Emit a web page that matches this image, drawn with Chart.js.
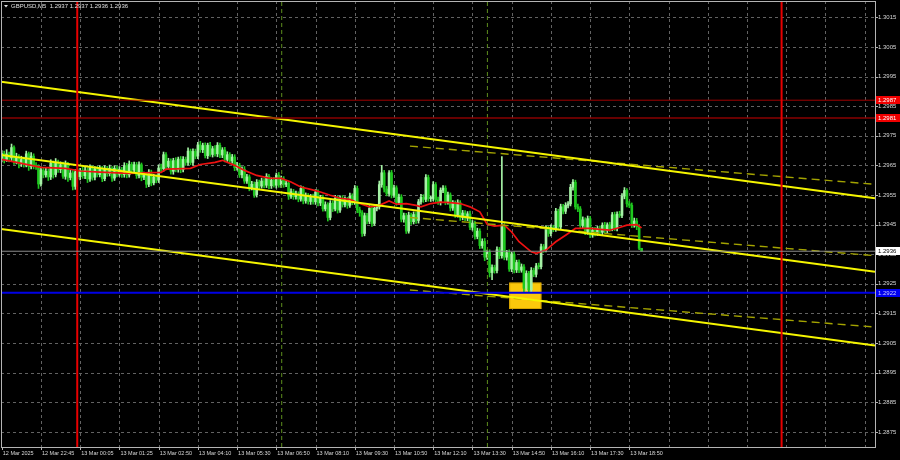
<!DOCTYPE html>
<html><head><meta charset="utf-8">
<script src="https://cdn.jsdelivr.net/npm/chart.js@4.4.1/dist/chart.umd.min.js"></script>
<style>html,body{margin:0;padding:0;background:#000;overflow:hidden}#wrap{width:900px;height:460px}</style>
</head><body><div id="wrap"><canvas id="c" width="900" height="460"></canvas></div>
<script>
const symbolTitle = "GBPUSD,M5  1.2937 1.2937 1.2936 1.2936";
const timeLabels = ["12 Mar 2025","12 Mar 22:45","13 Mar 00:05","13 Mar 01:25","13 Mar 02:50","13 Mar 04:10","13 Mar 05:30","13 Mar 06:50","13 Mar 08:10","13 Mar 09:30","13 Mar 10:50","13 Mar 12:10","13 Mar 13:30","13 Mar 14:50","13 Mar 16:10","13 Mar 17:30","13 Mar 18:50"];
const timeTickBars = [0,16,32,48,64,80,96,112,128,144,160,176,192,208,224,240,256,272,288,304,320,336,352];
const priceTicks = [1.2875,1.2885,1.2895,1.2905,1.2915,1.2925,1.2935,1.2945,1.2955,1.2965,1.2975,1.2985,1.2995,1.3005,1.3015];

const opens = [
1.29670,1.29690,1.29670,1.29688,1.29675,1.29710,1.29663,1.29677,1.29655,1.29670,
1.29655,1.29689,1.29646,1.29681,1.29649,1.29645,1.29587,1.29634,1.29618,1.29630,
1.29611,1.29658,1.29619,1.29660,1.29636,1.29652,1.29613,1.29653,1.29609,1.29624,
1.29579,1.29628,1.29612,1.29633,1.29615,1.29634,1.29604,1.29642,1.29610,1.29637,
1.29619,1.29640,1.29605,1.29639,1.29622,1.29640,1.29607,1.29640,1.29620,1.29636,
1.29619,1.29649,1.29618,1.29653,1.29634,1.29652,1.29616,1.29652,1.29610,1.29618,
1.29586,1.29627,1.29591,1.29610,1.29600,1.29641,1.29639,1.29686,1.29646,1.29664,
1.29630,1.29666,1.29636,1.29671,1.29636,1.29670,1.29660,1.29698,1.29660,1.29697,
1.29681,1.29719,1.29703,1.29717,1.29683,1.29718,1.29687,1.29706,1.29689,1.29718,
1.29685,1.29702,1.29670,1.29686,1.29665,1.29678,1.29642,1.29650,1.29618,1.29637,
1.29597,1.29611,1.29574,1.29586,1.29551,1.29593,1.29580,1.29597,1.29583,1.29613,
1.29581,1.29600,1.29583,1.29617,1.29584,1.29604,1.29586,1.29590,1.29546,1.29561,
1.29544,1.29553,1.29536,1.29572,1.29530,1.29547,1.29528,1.29543,1.29527,1.29560,
1.29523,1.29541,1.29503,1.29517,1.29474,1.29522,1.29503,1.29539,1.29499,1.29539,
1.29518,1.29535,1.29515,1.29546,1.29526,1.29572,1.29500,1.29490,1.29420,1.29480,
1.29461,1.29505,1.29454,1.29505,1.29510,1.29585,1.29625,1.29570,1.29555,1.29625,
1.29550,1.29574,1.29525,1.29543,1.29468,1.29480,1.29428,1.29482,1.29460,1.29484,
1.29464,1.29527,1.29542,1.29535,1.29609,1.29538,1.29538,1.29585,1.29534,1.29526,
1.29566,1.29573,1.29526,1.29550,1.29506,1.29522,1.29483,1.29524,1.29474,1.29489,
1.29472,1.29486,1.29441,1.29455,1.29410,1.29428,1.29379,1.29393,1.29340,1.29356,
1.29288,1.29305,1.29295,1.29365,1.29345,1.29445,1.29340,1.29355,1.29300,1.29350,
1.29297,1.29322,1.29296,1.29307,1.29235,1.29285,1.29230,1.29295,1.29282,1.29310,
1.29308,1.29375,1.29365,1.29437,1.29420,1.29440,1.29435,1.29495,1.29442,1.29510,
1.29495,1.29515,1.29520,1.29576,1.29593,1.29510,1.29503,1.29447,1.29466,1.29425,
1.29470,1.29415,1.29431,1.29422,1.29437,1.29424,1.29448,1.29430,1.29449,1.29437,
1.29483,1.29438,1.29485,1.29481,1.29546,1.29565,1.29520,1.29515,1.29449,1.29462,
1.29443,1.29370];
const closes = [
1.29690,1.29670,1.29688,1.29675,1.29710,1.29663,1.29677,1.29655,1.29670,1.29655,
1.29689,1.29646,1.29681,1.29649,1.29645,1.29587,1.29634,1.29618,1.29630,1.29611,
1.29658,1.29619,1.29660,1.29636,1.29652,1.29613,1.29653,1.29609,1.29624,1.29579,
1.29628,1.29612,1.29633,1.29615,1.29634,1.29604,1.29642,1.29610,1.29637,1.29619,
1.29640,1.29605,1.29639,1.29622,1.29640,1.29607,1.29640,1.29620,1.29636,1.29619,
1.29649,1.29618,1.29653,1.29634,1.29652,1.29616,1.29652,1.29610,1.29618,1.29586,
1.29627,1.29591,1.29610,1.29600,1.29641,1.29639,1.29686,1.29646,1.29664,1.29630,
1.29666,1.29636,1.29671,1.29636,1.29670,1.29660,1.29698,1.29660,1.29697,1.29681,
1.29719,1.29703,1.29717,1.29683,1.29718,1.29687,1.29706,1.29689,1.29718,1.29685,
1.29702,1.29670,1.29686,1.29665,1.29678,1.29642,1.29650,1.29618,1.29637,1.29597,
1.29611,1.29574,1.29586,1.29551,1.29593,1.29580,1.29597,1.29583,1.29613,1.29581,
1.29600,1.29583,1.29617,1.29584,1.29604,1.29586,1.29590,1.29546,1.29561,1.29544,
1.29553,1.29536,1.29572,1.29530,1.29547,1.29528,1.29543,1.29527,1.29560,1.29523,
1.29541,1.29503,1.29517,1.29474,1.29522,1.29503,1.29539,1.29499,1.29539,1.29518,
1.29535,1.29515,1.29546,1.29526,1.29572,1.29500,1.29490,1.29420,1.29480,1.29461,
1.29505,1.29454,1.29505,1.29510,1.29585,1.29625,1.29570,1.29555,1.29625,1.29550,
1.29574,1.29525,1.29543,1.29468,1.29480,1.29428,1.29482,1.29460,1.29484,1.29464,
1.29527,1.29542,1.29535,1.29609,1.29538,1.29538,1.29585,1.29534,1.29526,1.29566,
1.29573,1.29526,1.29550,1.29506,1.29522,1.29483,1.29524,1.29474,1.29489,1.29472,
1.29486,1.29441,1.29455,1.29410,1.29428,1.29379,1.29393,1.29340,1.29356,1.29288,
1.29305,1.29295,1.29365,1.29345,1.29445,1.29340,1.29355,1.29300,1.29350,1.29297,
1.29322,1.29296,1.29307,1.29235,1.29285,1.29230,1.29295,1.29282,1.29310,1.29308,
1.29375,1.29365,1.29437,1.29420,1.29440,1.29435,1.29495,1.29442,1.29510,1.29495,
1.29515,1.29520,1.29576,1.29593,1.29510,1.29503,1.29447,1.29466,1.29425,1.29470,
1.29415,1.29431,1.29422,1.29437,1.29424,1.29448,1.29430,1.29449,1.29437,1.29483,
1.29438,1.29485,1.29481,1.29546,1.29565,1.29520,1.29515,1.29449,1.29462,1.29443,
1.29370,1.29360];
const highs = [
1.29700,1.29698,1.29703,1.29695,1.29722,1.29716,1.29691,1.29686,1.29681,1.29678,
1.29698,1.29695,1.29693,1.29689,1.29659,1.29652,1.29645,1.29643,1.29643,1.29638,
1.29669,1.29665,1.29673,1.29668,1.29662,1.29661,1.29665,1.29660,1.29634,1.29632,
1.29636,1.29638,1.29640,1.29644,1.29643,1.29642,1.29652,1.29649,1.29646,1.29647,
1.29649,1.29647,1.29649,1.29647,1.29651,1.29646,1.29649,1.29648,1.29646,1.29643,
1.29659,1.29657,1.29665,1.29660,1.29661,1.29660,1.29662,1.29658,1.29627,1.29625,
1.29636,1.29634,1.29620,1.29618,1.29652,1.29654,1.29695,1.29693,1.29674,1.29672,
1.29674,1.29676,1.29678,1.29680,1.29680,1.29678,1.29709,1.29705,1.29706,1.29705,
1.29728,1.29731,1.29725,1.29726,1.29725,1.29728,1.29714,1.29717,1.29727,1.29725,
1.29710,1.29711,1.29696,1.29693,1.29687,1.29686,1.29660,1.29657,1.29645,1.29646,
1.29620,1.29618,1.29596,1.29594,1.29602,1.29600,1.29607,1.29605,1.29622,1.29620,
1.29608,1.29610,1.29624,1.29626,1.29614,1.29612,1.29599,1.29597,1.29571,1.29569,
1.29563,1.29561,1.29581,1.29579,1.29557,1.29555,1.29552,1.29553,1.29568,1.29567,
1.29549,1.29550,1.29527,1.29524,1.29531,1.29530,1.29549,1.29546,1.29547,1.29548,
1.29544,1.29542,1.29556,1.29554,1.29582,1.29580,1.29509,1.29497,1.29489,1.29488,
1.29514,1.29513,1.29515,1.29518,1.29597,1.29650,1.29633,1.29579,1.29632,1.29633,
1.29583,1.29581,1.29553,1.29551,1.29489,1.29488,1.29492,1.29489,1.29493,1.29492,
1.29535,1.29552,1.29551,1.29619,1.29617,1.29547,1.29595,1.29592,1.29543,1.29574,
1.29582,1.29581,1.29560,1.29557,1.29531,1.29530,1.29534,1.29531,1.29498,1.29497,
1.29494,1.29496,1.29464,1.29462,1.29438,1.29436,1.29402,1.29403,1.29364,1.29365,
1.29314,1.29313,1.29375,1.29373,1.29680,1.29454,1.29363,1.29365,1.29357,1.29359,
1.29330,1.29331,1.29317,1.29315,1.29294,1.29292,1.29305,1.29303,1.29319,1.29320,
1.29384,1.29383,1.29447,1.29444,1.29449,1.29448,1.29505,1.29502,1.29519,1.29518,
1.29524,1.29528,1.29586,1.29602,1.29600,1.29519,1.29511,1.29476,1.29473,1.29479,
1.29478,1.29440,1.29441,1.29444,1.29446,1.29456,1.29458,1.29456,1.29458,1.29491,
1.29492,1.29493,1.29495,1.29555,1.29575,1.29572,1.29529,1.29523,1.29472,1.29471,
1.29450,1.29370];
const lows = [
1.29662,1.29658,1.29663,1.29662,1.29666,1.29653,1.29655,1.29641,1.29646,1.29644,
1.29645,1.29633,1.29638,1.29638,1.29636,1.29572,1.29580,1.29608,1.29610,1.29599,
1.29602,1.29607,1.29611,1.29626,1.29625,1.29606,1.29603,1.29596,1.29601,1.29567,
1.29569,1.29604,1.29601,1.29606,1.29605,1.29592,1.29596,1.29600,1.29601,1.29611,
1.29611,1.29595,1.29598,1.29613,1.29614,1.29596,1.29599,1.29611,1.29613,1.29609,
1.29610,1.29608,1.29610,1.29623,1.29625,1.29606,1.29608,1.29598,1.29602,1.29575,
1.29578,1.29581,1.29584,1.29591,1.29592,1.29629,1.29630,1.29635,1.29638,1.29620,
1.29620,1.29628,1.29627,1.29625,1.29628,1.29650,1.29651,1.29652,1.29650,1.29672,
1.29673,1.29694,1.29693,1.29675,1.29673,1.29680,1.29678,1.29681,1.29679,1.29676,
1.29676,1.29662,1.29663,1.29655,1.29657,1.29632,1.29634,1.29609,1.29608,1.29589,
1.29589,1.29564,1.29567,1.29542,1.29543,1.29570,1.29573,1.29574,1.29575,1.29571,
1.29572,1.29576,1.29573,1.29576,1.29575,1.29576,1.29578,1.29535,1.29538,1.29535,
1.29536,1.29527,1.29529,1.29520,1.29522,1.29519,1.29518,1.29519,1.29518,1.29513,
1.29514,1.29495,1.29496,1.29462,1.29466,1.29494,1.29496,1.29489,1.29491,1.29509,
1.29510,1.29505,1.29508,1.29517,1.29518,1.29490,1.29478,1.29410,1.29412,1.29452,
1.29453,1.29444,1.29447,1.29496,1.29502,1.29576,1.29560,1.29547,1.29546,1.29540,
1.29542,1.29515,1.29517,1.29459,1.29458,1.29420,1.29421,1.29451,1.29452,1.29454,
1.29455,1.29519,1.29525,1.29527,1.29529,1.29528,1.29530,1.29525,1.29518,1.29516,
1.29558,1.29517,1.29519,1.29496,1.29498,1.29474,1.29475,1.29464,1.29466,1.29463,
1.29463,1.29433,1.29431,1.29401,1.29402,1.29369,1.29370,1.29328,1.29332,1.29273,
1.29264,1.29286,1.29287,1.29335,1.29337,1.29331,1.29330,1.29292,1.29291,1.29287,
1.29288,1.29288,1.29289,1.29220,1.29227,1.29223,1.29221,1.29274,1.29273,1.29300,
1.29300,1.29356,1.29358,1.29410,1.29412,1.29426,1.29427,1.29432,1.29434,1.29486,
1.29487,1.29506,1.29513,1.29566,1.29502,1.29494,1.29437,1.29439,1.29416,1.29417,
1.29406,1.29407,1.29412,1.29413,1.29416,1.29414,1.29422,1.29421,1.29427,1.29429,
1.29430,1.29429,1.29474,1.29473,1.29537,1.29510,1.29507,1.29440,1.29441,1.29433,
1.29365,1.29360];

const maBars = [0,16,26,32,40,52,65,67,71,77,81,87,90,95,99,104,109,114,118,122,126,130,134,138,142,146,150,154,158,161,165,169,171,175,179,183,187,191,195,198,201,205,208,211,216,218,222,226,230,234,240,244,248,252,255,259,261];
const maValues = [1.29670,1.29643,1.29640,1.29631,1.29627,1.29623,1.29626,1.29637,1.29638,1.29640,1.29653,1.29660,1.29667,1.29650,1.29633,1.29616,1.29607,1.29606,1.29594,1.29577,1.29569,1.29560,1.29549,1.29539,1.29535,1.29521,1.29510,1.29515,1.29530,1.29519,1.29521,1.29515,1.29510,1.29521,1.29526,1.29524,1.29521,1.29510,1.29493,1.29451,1.29445,1.29448,1.29425,1.29392,1.29358,1.29353,1.29364,1.29392,1.29414,1.29437,1.29437,1.29434,1.29431,1.29440,1.29448,1.29450,1.29439];

const channelBars = [-0.3, 356.2];
const channelUpper = [1.29932, 1.29539];
const channelMiddle = [1.29685, 1.29291];
const channelLower = [1.29435, 1.29042];
const projBars = [166.5, 356.2];
const projUpper = [1.29715, 1.29586];
const projMiddle = [1.29474, 1.29345];
const projLower = [1.29229, 1.29104];
const resistanceLevels = [1.2987, 1.2981];
const supportLevel = 1.2922;
const lastPrice = 1.2936;
const daySeparatorBars = [30.8, 318.1];
const sessionBars = [114.2, 198.1];
const zoneBars = [207.0, 220.1];
const zonePrices = [1.29254, 1.29165];

const X_MIN = -0.3, X_MAX = 356.2, Y_MIN = 1.28699, Y_MAX = 1.30205;
const FONT = '"Liberation Sans", Arial, sans-serif';

const upCol = '#a6f2a6', downCol = '#1ec81e';
const barCols = opens.map((o,i)=> closes[i] >= o ? upCol : downCol);
const wickData = lows.map((l,i)=>({x:i, y:[l, highs[i]]}));
const bodyData = opens.map((o,i)=>({x:i, y:[o, closes[i]]}));
const seg = (xs, ys) => xs.map((x,i)=>({x, y:ys[i]}));
const hline = p => [{x:X_MIN,y:p},{x:X_MAX,y:p}];
const vline = b => [{x:b,y:Y_MIN},{x:b,y:Y_MAX}];
const lineDs = (data, color, width, order, dash) => ({type:'line', data, borderColor:color, borderWidth:width, pointRadius:0, order, borderDash:dash||[], tension:0, fill:false});

const datasets = [
  {type:'bar', data:wickData, backgroundColor:barCols, barThickness:1, grouped:false, order:21, borderWidth:0},
  {type:'bar', data:bodyData, backgroundColor:barCols, barThickness:2, grouped:false, order:20, borderWidth:0, minBarLength:1},
  lineDs(seg(maBars, maValues), '#ee1111', 1.7, 12),
  lineDs(vline(sessionBars[0]), '#5e8e1e', 1, 15, [4,3]),
  lineDs(vline(sessionBars[1]), '#5e8e1e', 1, 15, [4,3]),
  lineDs(seg(projBars, projUpper), '#a3a300', 1.4, 11, [8,5]),
  lineDs(seg(projBars, projMiddle), '#a3a300', 1.4, 11, [8,5]),
  lineDs(seg(projBars, projLower), '#a3a300', 1.4, 11, [8,5]),
  lineDs(seg(channelBars, channelUpper), '#f5f500', 2, 9),
  lineDs(seg(channelBars, channelMiddle), '#f5f500', 2, 9),
  lineDs(seg(channelBars, channelLower), '#f5f500', 2, 9),
  lineDs(hline(resistanceLevels[0]), '#a00000', 1, 7),
  lineDs(hline(resistanceLevels[1]), '#8a0000', 1.5, 7),
  lineDs(vline(daySeparatorBars[0]), '#e80000', 2, 6),
  lineDs(vline(daySeparatorBars[1]), '#e80000', 2, 6),
  lineDs(hline(lastPrice), '#8c8c8c', 1, 5),
  lineDs(hline(supportLevel), '#0000e6', 2, 4)
];

const mt4Plugin = {
  id:'mt4',
  beforeDraw(chart){
    const c = chart.ctx; c.save(); c.fillStyle = '#000'; c.fillRect(0,0,chart.width,chart.height); c.restore();
  },
  beforeDatasetsDraw(chart){
    const {ctx:c, chartArea:a, scales:{x,y}} = chart;
    c.save();
    c.strokeStyle = '#626262'; c.lineWidth = 1; c.setLineDash([3,3]);
    priceTicks.forEach(v=>{ const py = Math.round(y.getPixelForValue(v))+0.5; c.beginPath(); c.moveTo(a.left,py); c.lineTo(a.right,py); c.stroke(); });
    timeTickBars.forEach(b=>{ const px = Math.round(x.getPixelForValue(b))+0.5; if(px<a.left+2) return; c.beginPath(); c.moveTo(px,a.top); c.lineTo(px,a.bottom); c.stroke(); });
    c.setLineDash([]);
    const x0 = x.getPixelForValue(zoneBars[0]), x1 = x.getPixelForValue(zoneBars[1]);
    const y0 = y.getPixelForValue(zonePrices[0]), y1 = y.getPixelForValue(zonePrices[1]);
    c.fillStyle = '#fcc80c'; c.fillRect(x0, y0, x1-x0, y1-y0);
    c.strokeStyle = '#d9a400'; c.lineWidth = 1; c.strokeRect(x0+0.5, y0+0.5, x1-x0-1, y1-y0-1);
    c.restore();
  },
  afterDraw(chart){
    const {ctx:c, chartArea:a, scales:{x,y}} = chart;
    c.save();
    c.strokeStyle = '#b4b4b4'; c.lineWidth = 1;
    c.strokeRect(a.left+0.5, a.top+0.5, a.right-a.left, a.bottom-a.top);
    c.beginPath();
    priceTicks.forEach(v=>{ const py=Math.round(y.getPixelForValue(v))+0.5; c.moveTo(a.right, py); c.lineTo(a.right+3, py); });
    timeTickBars.slice(0, timeLabels.length).forEach(b=>{ const px=Math.round(x.getPixelForValue(b))+0.5; c.moveTo(px, a.bottom); c.lineTo(px, a.bottom+3); });
    c.stroke();
    const tags = [
      [resistanceLevels[0], '#f00000', '#ffffff'],
      [resistanceLevels[1], '#f00000', '#ffffff'],
      [lastPrice, '#ffffff', '#000000'],
      [supportLevel, '#0000f0', '#c8c8ff']
    ];
    c.font = '6px ' + FONT; c.textBaseline = 'middle'; c.textAlign = 'left';
    tags.forEach(([p,bg,fg])=>{
      const py = Math.round(y.getPixelForValue(p));
      c.fillStyle = bg; c.fillRect(a.right+1, py-4, 900-a.right-1, 8);
      c.fillStyle = fg; c.fillText(p.toFixed(4), a.right+3, py+0.5);
    });
    c.fillStyle = '#e0e0e0';
    c.beginPath(); c.moveTo(4,5); c.lineTo(8,5); c.lineTo(6,7.5); c.closePath(); c.fill();
    c.font = '6px ' + FONT; c.fillText(symbolTitle, 11, 6.5);
    c.restore();
  }
};

new Chart(document.getElementById('c'), {
  type:'bar',
  data:{datasets},
  options:{
    responsive:false, animation:false, devicePixelRatio:1, events:[],
    layout:{padding:{left:1, top:1, right:0, bottom:0}},
    plugins:{legend:{display:false}, tooltip:{enabled:false}},
    scales:{
      x:{type:'linear', position:'bottom', min:X_MIN, max:X_MAX, offset:false,
        grid:{display:false, drawTicks:false, tickLength:0}, border:{display:false},
        afterBuildTicks:s=>{ s.ticks = timeTickBars.map(v=>({value:v})); },
        afterFit:s=>{ s.height = 13; s.paddingLeft = 0; s.paddingRight = 0; },
        ticks:{autoSkip:false, maxRotation:0, minRotation:0, align:'start', labelOffset:1, padding:3, color:'#d8d8d8',
          font:{family:FONT, size:5.5},
          callback:(v,i)=> timeLabels[i] || ''}
      },
      y:{type:'linear', position:'right', min:Y_MIN, max:Y_MAX,
        grid:{display:false, drawTicks:false, tickLength:0}, border:{display:false},
        afterBuildTicks:s=>{ s.ticks = priceTicks.map(v=>({value:v})); },
        afterFit:s=>{ s.width = 25; s.paddingTop = 0; s.paddingBottom = 0; },
        ticks:{autoSkip:false, padding:3, color:'#d8d8d8', font:{family:FONT, size:6},
          callback:v=> Number(v).toFixed(4)}
      }
    }
  },
  plugins:[mt4Plugin]
});
</script></body></html>
